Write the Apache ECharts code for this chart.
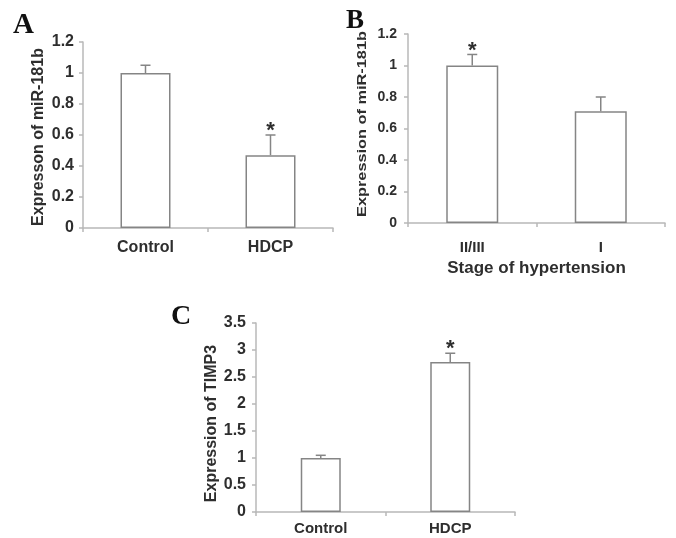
<!DOCTYPE html>
<html>
<head>
<meta charset="utf-8">
<script src="https://cdn.jsdelivr.net/npm/echarts@6/dist/echarts.min.js"></script>
<style>html,body{margin:0;padding:0;background:#fff}#c{width:676px;height:538px}</style>
</head>
<body>
<div id="c"></div>
<script>
var catA = ['Control', 'HDCP'];
var valA = [1.0, 0.47];
var errA = [0.05, 0.13];
var starA = [false, true];

var catB = ['II/III', 'I'];
var valB = [1.0, 0.71];
var errB = [0.07, 0.09];
var starB = [true, false];

var catC = ['Control', 'HDCP'];
var valC = [1.0, 2.78];
var errC = [0.05, 0.16];
var starC = [false, true];

var ticksA = { min: 0, max: 1.2, interval: 0.2 };
var ticksB = { min: 0, max: 1.2, interval: 0.2 };
var ticksC = { min: 0, max: 3.5, interval: 0.5 };

var nameA = 'Expresson of miR-181b';
var nameB = 'Expression of miR-181b';
var nameC = 'Expression of TIMP3';
var xNameB = 'Stage of hypertension';

var AXIS = '#b8b8b8', BORDER = '#858585', TEXT = '#2e2e2e';
var FONT = 'Liberation Sans, Arial, sans-serif';

function xAxis(idx, cats, fs, margin, name) {
  return {
    type: 'category', gridIndex: idx, data: cats,
    axisLine: { lineStyle: { color: AXIS, width: 1.5 } },
    axisTick: { show: true, length: 4, lineStyle: { color: AXIS, width: 1.5 } },
    axisLabel: { color: TEXT, fontSize: fs, fontWeight: 'bold', fontFamily: FONT, margin: margin },
    name: name || '', nameLocation: 'middle', nameGap: 37,
    nameTextStyle: { color: TEXT, fontSize: 17, fontWeight: 'bold', fontFamily: FONT }
  };
}
function yAxis(idx, t, fs, margin) {
  return {
    type: 'value', gridIndex: idx, min: t.min, max: t.max, interval: t.interval,
    splitLine: { show: false },
    axisLine: { show: true, lineStyle: { color: AXIS, width: 1.5 } },
    axisTick: { show: true, length: 4, lineStyle: { color: AXIS, width: 1.5 } },
    axisLabel: { color: TEXT, fontSize: fs, fontWeight: 'bold', fontFamily: FONT, margin: margin }
  };
}
function bars(idx, vals, w) {
  return {
    type: 'bar', xAxisIndex: idx, yAxisIndex: idx, data: vals, barWidth: w,
    itemStyle: { color: '#fff', borderColor: BORDER, borderWidth: 1.5 },
    silent: true, z: 2
  };
}
function errs(idx, vals, e, stars) {
  var data = vals.map(function (v, i) { return [i, v, v + e[i], stars[i] ? 1 : 0]; });
  return {
    type: 'custom', xAxisIndex: idx, yAxisIndex: idx, data: data, z: 3, silent: true,
    renderItem: function (params, api) {
      var p0 = api.coord([api.value(0), api.value(1)]);
      var p1 = api.coord([api.value(0), api.value(2)]);
      var children = [
        { type: 'line', shape: { x1: p0[0], y1: p0[1], x2: p1[0], y2: p1[1] }, style: { stroke: BORDER, lineWidth: 1.5 } },
        { type: 'line', shape: { x1: p1[0] - 5, y1: p1[1], x2: p1[0] + 5, y2: p1[1] }, style: { stroke: BORDER, lineWidth: 1.5 } }
      ];
      if (api.value(3)) {
        children.push({ type: 'text', x: p1[0], y: p1[1] + 7,
          style: { text: '*', fill: TEXT, fontSize: 22, fontWeight: 'bold', fontFamily: FONT, align: 'center', verticalAlign: 'bottom' } });
      }
      return { type: 'group', children: children };
    },
    encode: { x: 0, y: [1, 2] }
  };
}
function letter(t, x, y, s) {
  return { type: 'text', left: x, top: y,
    style: { text: t, fill: '#111', fontSize: s, fontWeight: 'bold', fontFamily: 'Liberation Serif, Times New Roman, serif' } };
}
function yName(t, x, y, fs, sx) {
  return { type: 'text', x: x, y: y, rotation: Math.PI / 2, scaleX: sx, scaleY: 1,
    style: { text: t, fill: TEXT, fontSize: fs, fontWeight: 'bold', fontFamily: FONT, align: 'center', verticalAlign: 'middle' } };
}

var chart = echarts.init(document.getElementById('c'));
chart.setOption({
  animation: false,
  backgroundColor: '#fff',
  grid: [
    { left: 83, top: 42, width: 250, height: 186 },
    { left: 408, top: 34, width: 257, height: 189 },
    { left: 256, top: 323, width: 259, height: 189 }
  ],
  xAxis: [xAxis(0, catA, 16, 12), xAxis(1, catB, 15, 17, xNameB), xAxis(2, catC, 15, 9)],
  yAxis: [yAxis(0, ticksA, 16, 9), yAxis(1, ticksB, 14, 11), yAxis(2, ticksC, 16, 10)],
  series: [
    bars(0, valA, 50), errs(0, valA, errA, starA),
    bars(1, valB, 52), errs(1, valB, errB, starB),
    bars(2, valC, 40), errs(2, valC, errC, starC)
  ],
  graphic: [
    letter('A', 13, 11, 29),
    letter('B', 346, 8, 27),
    letter('C', 171, 303, 28),
    yName(nameA, 38.5, 137, 16, 1),
    yName(nameB, 362.5, 124, 12, 1.36),
    yName(nameC, 212, 423.5, 16, 1)
  ]
});
</script>
</body>
</html>
